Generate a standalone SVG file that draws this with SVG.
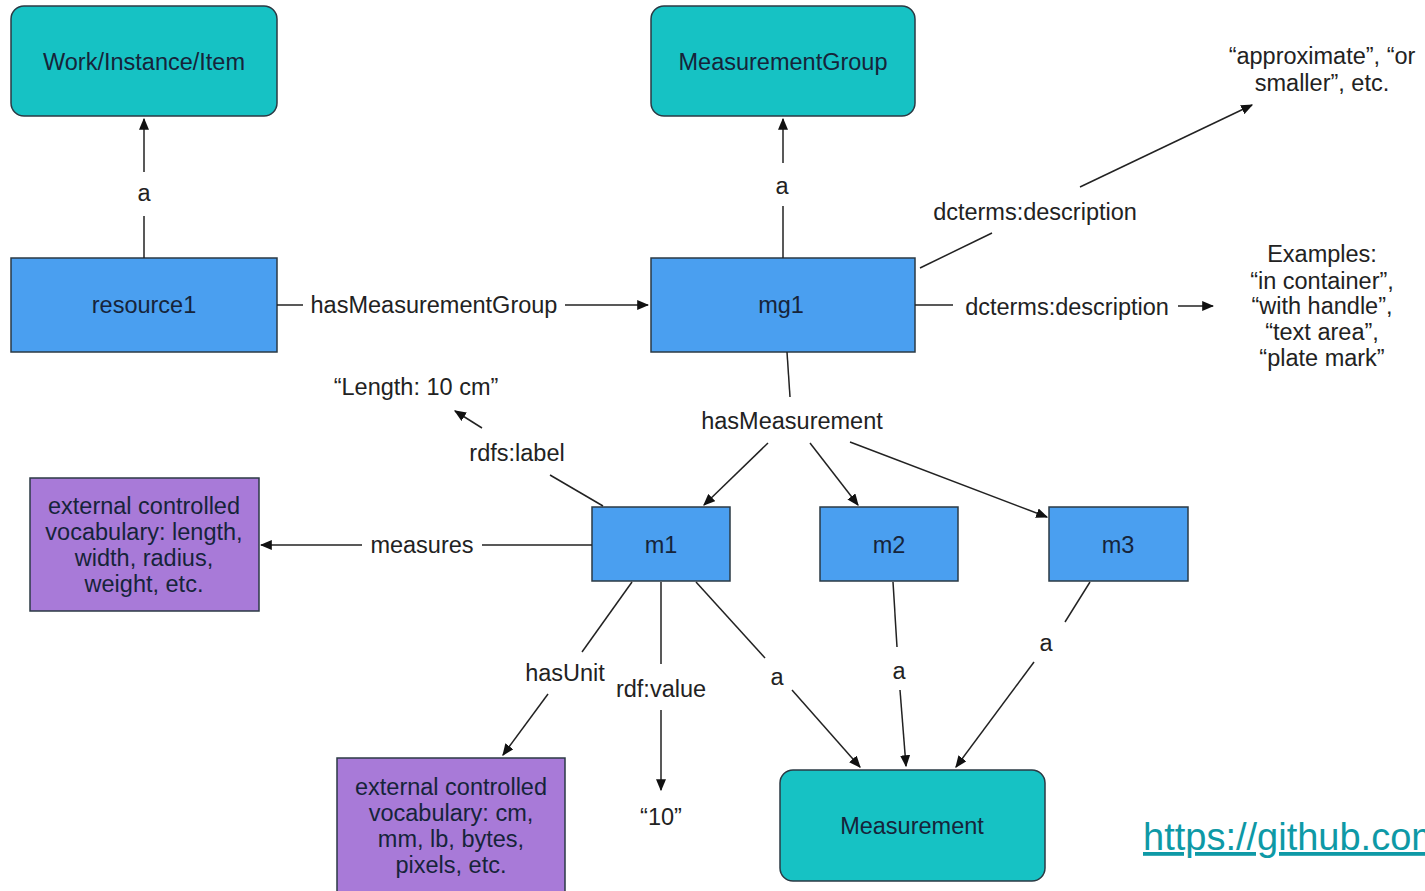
<svg xmlns="http://www.w3.org/2000/svg" width="1425" height="891" viewBox="0 0 1425 891">
<defs>
<marker id="ah" viewBox="0 0 10 10" refX="9" refY="5" markerWidth="12" markerHeight="10" orient="auto" markerUnits="userSpaceOnUse" preserveAspectRatio="none">
<path d="M0,0 L10,5 L0,10 z" fill="#111"/>
</marker>
<style>
.cls{fill:#16c2c4;stroke:#2b3a44;stroke-width:1.5}
.res{fill:#4a9ff0;stroke:#2b3a44;stroke-width:1.5}
.ext{fill:#a87ad8;stroke:#2b3a44;stroke-width:1.5}
.nt{font-family:"Liberation Sans",Arial,sans-serif;font-size:23.5px;fill:#16243a;text-anchor:middle}
.lb{font-family:"Liberation Sans",Arial,sans-serif;font-size:23.5px;fill:#222;text-anchor:middle}
.ln{stroke:#222;stroke-width:1.5;fill:none}
.ar{stroke:#222;stroke-width:1.5;fill:none;marker-end:url(#ah)}
</style>
</defs>
<rect width="1425" height="891" fill="#fff"/>
<g id="work"><rect class="cls" x="11" y="6" width="266" height="110" rx="13"/><text class="nt" x="144" y="70">Work/Instance/Item</text></g>
<g id="measurementgroup"><rect class="cls" x="651" y="6" width="264" height="110" rx="13"/><text class="nt" x="783" y="70">MeasurementGroup</text></g>
<g id="resource1"><rect class="res" x="11" y="258" width="266" height="94"/><text class="nt" x="144" y="313">resource1</text></g>
<g id="mg1"><rect class="res" x="651" y="258" width="264" height="94"/><text class="nt" x="781" y="313">mg1</text></g>
<g id="m1"><rect class="res" x="592" y="507" width="138" height="74"/><text class="nt" x="661" y="553">m1</text></g>
<g id="m2"><rect class="res" x="820" y="507" width="138" height="74"/><text class="nt" x="889" y="553">m2</text></g>
<g id="m3"><rect class="res" x="1049" y="507" width="139" height="74"/><text class="nt" x="1118" y="553">m3</text></g>
<g id="vocab1"><rect class="ext" x="30" y="478" width="229" height="133"/><text class="nt" x="144"><tspan x="144" y="514">external controlled</tspan><tspan x="144" y="540">vocabulary: length,</tspan><tspan x="144" y="566">width, radius,</tspan><tspan x="144" y="592">weight, etc.</tspan></text></g>
<g id="vocab2"><rect class="ext" x="337" y="758" width="228" height="140"/><text class="nt" x="451"><tspan x="451" y="795">external controlled</tspan><tspan x="451" y="821">vocabulary: cm,</tspan><tspan x="451" y="847">mm, lb, bytes,</tspan><tspan x="451" y="873">pixels, etc.</tspan></text></g>
<g id="measurement"><rect class="cls" x="780" y="770" width="265" height="111" rx="13"/><text class="nt" x="912" y="834">Measurement</text></g>
<g id="lit-approx"><text class="lb"><tspan x="1322" y="64">“approximate”, “or</tspan><tspan x="1322" y="91">smaller”, etc.</tspan></text></g>
<g id="lit-examples"><text class="lb"><tspan x="1322" y="262">Examples:</tspan><tspan x="1322" y="289">“in container”,</tspan><tspan x="1322" y="314">“with handle”,</tspan><tspan x="1322" y="340">“text area”,</tspan><tspan x="1322" y="366">“plate mark”</tspan></text></g>
<g id="lit-length"><text class="lb" x="416" y="395">“Length: 10 cm”</text></g>
<g id="lit-10"><text class="lb" x="661" y="825">“10”</text></g>
<g id="link"><text x="1143" y="850" font-family="'Liberation Sans',Arial,sans-serif" font-size="38" fill="#0e99a6" text-decoration="underline">https://github.com</text></g>
<g id="connectors">
<line class="ln" x1="144" y1="258" x2="144" y2="216"/><line class="ar" x1="144" y1="172" x2="144" y2="119"/><text class="lb" x="144" y="201">a</text>
<line class="ln" x1="783" y1="258" x2="783" y2="206"/><line class="ar" x1="783" y1="163" x2="783" y2="119"/><text class="lb" x="782" y="194">a</text>
<line class="ln" x1="277" y1="305" x2="303" y2="305"/><text class="lb" x="434" y="313">hasMeasurementGroup</text><line class="ar" x1="565" y1="305" x2="648" y2="305"/>
<line class="ln" x1="920" y1="268" x2="992" y2="233"/><text class="lb" x="1035" y="220">dcterms:description</text><line class="ar" x1="1080" y1="187" x2="1252" y2="105"/>
<line class="ln" x1="915" y1="305" x2="953" y2="305"/><text class="lb" x="1067" y="315">dcterms:description</text><line class="ar" x1="1178" y1="306" x2="1213" y2="306"/>
<line class="ln" x1="787" y1="352" x2="790" y2="397"/><text class="lb" x="792" y="429">hasMeasurement</text>
<line class="ar" x1="768" y1="443" x2="704" y2="505"/><line class="ar" x1="810" y1="443" x2="858" y2="505"/><line class="ar" x1="850" y1="442" x2="1047" y2="517"/>
<line class="ln" x1="603" y1="506" x2="550" y2="475"/><text class="lb" x="517" y="461">rdfs:label</text><line class="ar" x1="482" y1="428" x2="455" y2="411"/>
<line class="ln" x1="592" y1="545" x2="482" y2="545"/><text class="lb" x="422" y="553">measures</text><line class="ar" x1="362" y1="545" x2="261" y2="545"/>
<line class="ln" x1="632" y1="582" x2="582" y2="652"/><text class="lb" x="565" y="681">hasUnit</text><line class="ar" x1="548" y1="694" x2="503" y2="755"/>
<line class="ln" x1="661" y1="582" x2="661" y2="664"/><text class="lb" x="661" y="697">rdf:value</text><line class="ar" x1="661" y1="710" x2="661" y2="790"/>
<line class="ln" x1="696" y1="582" x2="765" y2="658"/><text class="lb" x="777" y="685">a</text><line class="ar" x1="792" y1="690" x2="860" y2="767"/>
<line class="ln" x1="893" y1="582" x2="897" y2="647"/><text class="lb" x="899" y="679">a</text><line class="ar" x1="900" y1="690" x2="906" y2="766"/>
<line class="ln" x1="1090" y1="582" x2="1065" y2="622"/><text class="lb" x="1046" y="651">a</text><line class="ar" x1="1034" y1="662" x2="956" y2="767"/>
</g>
</svg>
